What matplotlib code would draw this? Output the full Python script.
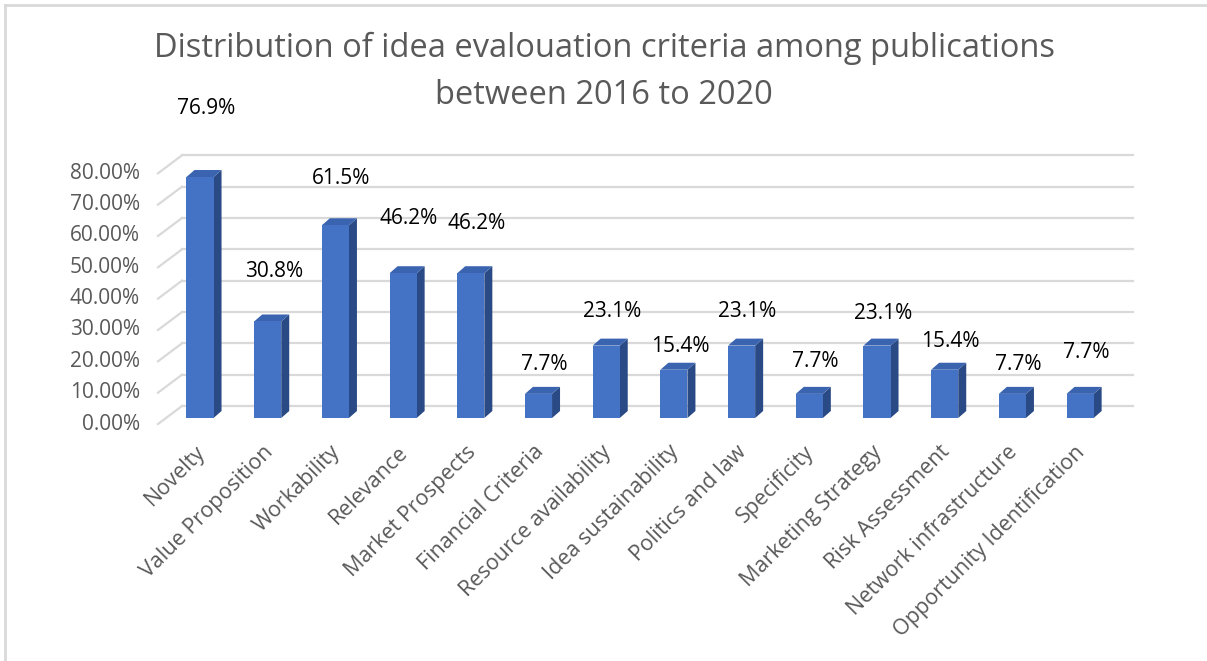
import matplotlib
matplotlib.use("Agg")
import matplotlib.pyplot as plt
from matplotlib.patches import Polygon
from matplotlib.lines import Line2D
import numpy as np

criteria = ["Novelty", "Value Proposition", "Workability", "Relevance",
            "Market Prospects", "Financial Criteria", "Resource availability",
            "Idea sustainability", "Politics and law", "Specificity",
            "Marketing Strategy", "Risk Assessment", "Network infrastructure",
            "Opportunity Identification"]
share_pct = [76.9, 30.8, 61.5, 46.2, 46.2, 7.7, 23.1, 15.4, 23.1, 7.7,
             23.1, 15.4, 7.7, 7.7]
y_ticks = [0.0, 0.1, 0.2, 0.3, 0.4, 0.5, 0.6, 0.7, 0.8]
title_lines = ["Distribution of idea evalouation criteria among publications",
               "between 2016 to 2020"]

# how far (px) each value label sits above its bar top
label_lift = [69, 50, 47, 55, 50, 29, 34, 23, 34, 32, 32, 28, 29, 41]

FONT = "Open Sans"
TEXT_GREY = "#595959"
GRID = "#d9d9d9"
FRONT = "#4472c4"
TOP = "#3b64b0"
SIDE = "#2a4a85"

W, H, DPI = 1207, 661, 100
fig = plt.figure(figsize=(W / DPI, H / DPI), dpi=DPI)

# axes box = the plane of the bar front faces (pixels)
ax_left, ax_right = 166, 1117
ax_bottom, ax_top = 418, 167.3
ax = fig.add_axes([ax_left / W, (H - ax_bottom) / H,
                   (ax_right - ax_left) / W, (ax_bottom - ax_top) / H])
step = 67.7
x0 = (ax_left - 200) / step
x1 = (ax_right - 200) / step
ax.set_xlim(x0, x1)
ax.set_ylim(0, 0.8)
ax.axis("off")

# pixel -> data unit factors
sx = (x1 - x0) / (ax_right - ax_left)
sy = 0.8 / (ax_bottom - ax_top)

def px(dx, dy):
    return dx * sx, dy * sy

# depth offsets (px): front floor edge, back wall, bar thickness
fdx, fdy = px(-8, -6)
bdx, bdy = px(16, 12)
cdx, cdy = px(8, 7)

# gridlines on the back wall + diagonals on the side wall
for t in y_ticks:
    ax.add_line(Line2D([x0 + bdx, x1 + bdx], [t + bdy, t + bdy], color=GRID,
                       lw=1.6, zorder=1, clip_on=False))
    ax.add_line(Line2D([x0 + fdx, x0 + bdx], [t + fdy, t + bdy], color=GRID,
                       lw=1.6, zorder=1, clip_on=False))
    ax.text(x0 - 26 * sx, t - 6 * sy, "{:.2f}%".format(t * 100), ha="right",
            va="center", fontsize=15, color=TEXT_GREY, family=FONT)

xs = np.arange(len(criteria))
vals = np.array(share_pct) / 100.0
bw = 0.40
ax.bar(xs, vals, width=bw, color=FRONT, zorder=3, clip_on=False)

for i, v in enumerate(vals):
    xl, xr = xs[i] - bw / 2, xs[i] + bw / 2
    side = Polygon([(xr, 0), (xr + cdx, cdy), (xr + cdx, v + cdy), (xr, v)],
                   closed=True, fc=SIDE, ec="none", zorder=2, clip_on=False)
    top = Polygon([(xl, v), (xr, v), (xr + cdx, v + cdy), (xl + cdx, v + cdy)],
                  closed=True, fc=TOP, ec="none", zorder=2, clip_on=False)
    ax.add_patch(side)
    ax.add_patch(top)
    ax.text(xs[i] + 6 * sx, v + label_lift[i] * sy, "{:.1f}%".format(share_pct[i]),
            ha="center", va="center", fontsize=15, color="#000000",
            family=FONT, clip_on=False)

# rotated category labels
for i, name in enumerate(criteria):
    ax.text(xs[i] + 2 * sx, -31 * sy, name, rotation=45, rotation_mode="anchor",
            ha="right", va="center", fontsize=15.5, color=TEXT_GREY,
            family=FONT, clip_on=False)

# two-line title, one text per line
for line, ypix in zip(title_lines, [48, 95]):
    fig.text(604 / W, 1 - ypix / H, line, ha="center", va="center",
             fontsize=23.5, color=TEXT_GREY, family=FONT)

# chart frame (only the top and left edges fall inside the image)
fig.add_artist(Line2D([4.5 / W, 4.5 / W], [0, 1 - 4.5 / H], color=GRID,
                      lw=2, transform=fig.transFigure))
fig.add_artist(Line2D([4.5 / W, 1], [1 - 4.5 / H, 1 - 4.5 / H], color=GRID,
                      lw=2, transform=fig.transFigure))

fig.savefig("out.png", dpi=DPI)
